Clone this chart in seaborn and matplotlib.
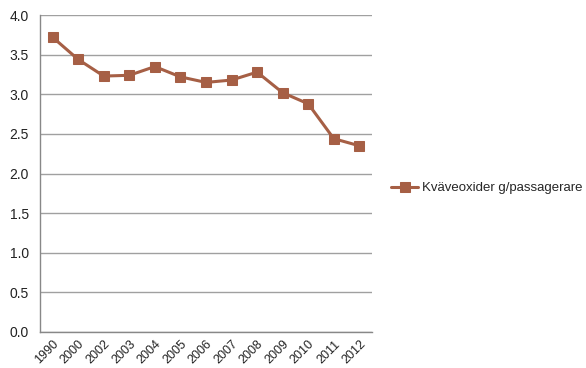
import matplotlib
matplotlib.use("Agg")
import matplotlib.pyplot as plt
import seaborn as sns
import pandas as pd
import numpy as np

years = ["1990", "2000", "2002", "2003", "2004", "2005", "2006",
         "2007", "2008", "2009", "2010", "2011", "2012"]
nox_per_passenger = [3.72, 3.44, 3.23, 3.24, 3.35, 3.22, 3.15,
                     3.18, 3.28, 3.02, 2.88, 2.44, 2.35]
series_label = "Kväveoxider g/passagerare"
y_ticks = [0.0, 0.5, 1.0, 1.5, 2.0, 2.5, 3.0, 3.5, 4.0]

sns.set_style("white")
plt.rcParams["font.family"] = ["Liberation Sans", "DejaVu Sans"]

df = pd.DataFrame({"År": years, "Värde": nox_per_passenger})

fig = plt.figure(figsize=(5.86, 3.68), dpi=100)
ax = fig.add_axes([0.068, 0.098, 0.567, 0.861])

color = "#A65F45"
sns.lineplot(data=df, x="År", y="Värde", ax=ax, color=color, linewidth=2.2,
             marker="s", markersize=7, markeredgecolor=color,
             label=series_label, sort=False)

ax.set_xlim(-0.5, len(years) - 0.5)
ax.set_ylim(0, 4.0)
ax.set_yticks(y_ticks)
ax.set_yticklabels([f"{v:.1f}" for v in y_ticks], fontsize=10, color="#222222")
ax.set_xticks(range(len(years)))
ax.set_xticklabels(years, rotation=45, ha="right", rotation_mode="anchor",
                   fontsize=9, color="#222222")
ax.set_xticks(np.arange(-0.5, len(years), 1.0), minor=True)
ax.tick_params(axis="x", which="major", length=0, pad=4.5)
ax.tick_params(axis="x", which="minor", length=4, color="#888888", width=1)
ax.tick_params(axis="y", which="major", length=4, color="#888888", width=1, pad=4)
ax.set_xlabel("")
ax.set_ylabel("")

ax.yaxis.grid(True, color="#a0a0a0", linewidth=1)
ax.xaxis.grid(False)
ax.set_axisbelow(True)
for side in ["top", "right"]:
    ax.spines[side].set_visible(False)
for side in ["left", "bottom"]:
    ax.spines[side].set_color("#888888")
    ax.spines[side].set_linewidth(1)

ax.legend(loc="center left", bbox_to_anchor=(1.042, 0.454), frameon=False,
          fontsize=9.5, handlelength=2.0, handletextpad=0.3, borderaxespad=0)

fig.savefig("out.png", dpi=100, facecolor="white")
